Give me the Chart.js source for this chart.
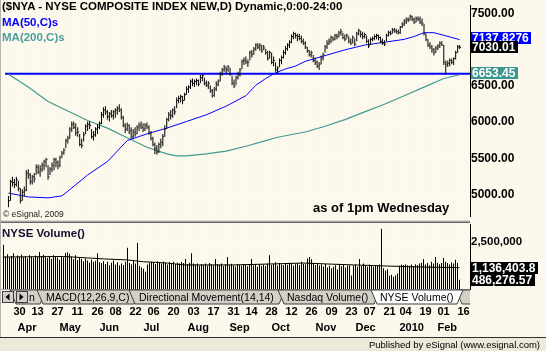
<!DOCTYPE html>
<html lang="en">

<head>
    <meta charset="UTF-8">
    <meta name="viewport" content="width=device-width, initial-scale=1.0">
    <title>$NYA - NYSE Composite Index</title>
    <script src="https://cdn.jsdelivr.net/npm/chart.js"></script>
    <style>
        body { margin: 0; width: 546px; height: 351px; overflow: hidden; position: relative; background: #fdf8ec; font-family: "Liberation Sans", Arial, sans-serif; }
        canvas { position: absolute; left: 0; }
        .txt { position: absolute; white-space: nowrap; line-height: 1; font-weight: bold; color: #000; }
        .borda { position: absolute; left: 0; top: 0; width: 1px; height: 337px; background: #b4b4b4; }
        .separador { position: absolute; left: 0; top: 220px; width: 470px; height: 3px; background: linear-gradient(#d8d8d8 0 1px, #a8a8a8 1px 2px, #686868 2px 3px); }
        .status { position: absolute; left: 0; top: 337px; width: 546px; height: 14px; background: #ece9d8; border-top: 1px solid #303030; box-sizing: border-box; }
        .status span { position: absolute; right: 6px; top: 2px; font-size: 9.5px; line-height: 1; color: #000; }
        svg { position: absolute; left: 0; top: 289px; }
    </style>
</head>

<body>

    <canvas id="grafico" width="546" height="221" style="top:0"></canvas>
    <div class="separador"></div>
    <canvas id="volume" width="546" height="114" style="top:223px"></canvas>

    <svg width="470" height="17" viewBox="0 0 470 17">
        <line x1="0" y1="0.5" x2="470" y2="0.5" stroke="#a0a0a0" />
        <polygon points="10,1 46,1 40,15 16,15" fill="#d4d0c8" stroke="#404040" />
        <text x="29" y="12" font-size="10.5" font-family="Liberation Sans, Arial">n</text>
        <rect x="2.5" y="2.5" width="11" height="11" fill="#d4d0c8" stroke="#404040" />
        <polygon points="5.5,8 9.5,4.5 9.5,11.5" fill="#000" />
        <rect x="16.5" y="2.5" width="11" height="11" fill="#d4d0c8" stroke="#404040" />
        <polygon points="19.5,4.5 19.5,11.5 23.5,8" fill="#000" />
        <polygon points="37,1 140,1 134,15 43,15" fill="#d4d0c8" stroke="#404040" />
        <text x="46" y="12" font-size="10.5" font-family="Liberation Sans, Arial">MACD(12,26,9,C)</text>
        <polygon points="129,1 285,1 279,15 135,15" fill="#d4d0c8" stroke="#404040" />
        <text x="139" y="12" font-size="10.5" font-family="Liberation Sans, Arial">Directional Movement(14,14)</text>
        <polygon points="278,1 380,1 374,15 284,15" fill="#d4d0c8" stroke="#404040" />
        <text x="287" y="12" font-size="10.5" font-family="Liberation Sans, Arial">Nasdaq Volume()</text>
        <polygon points="456,1 520,1 514,15 462,15" fill="#d4d0c8" stroke="#404040" />
        <polygon points="371,1 463,1 457,15 377,15" fill="#ffffff" stroke="#404040" />
        <text x="380" y="12" font-size="10.5" font-family="Liberation Sans, Arial">NYSE Volume()</text>
    </svg>

    <div class="borda"></div>
    <div class="txt" style="left:2px; top:1px; font-size:11.5px;">($NYA - NYSE COMPOSITE INDEX NEW,D) Dynamic,0:00-24:00</div>
    <div class="txt" style="left:2px; top:17px; font-size:11.5px; color:#0000ff;">MA(50,C)s</div>
    <div class="txt" style="left:2px; top:32px; font-size:11.5px; color:#4a9e9c;">MA(200,C)s</div>
    <div class="txt" style="left:313px; top:201px; font-size:13px;">as of 1pm Wednesday</div>
    <div class="txt" style="left:3px; top:210px; font-size:8.5px; font-weight:normal; color:#202020;">© eSignal, 2009</div>
    <div class="txt" style="left:2px; top:228px; font-size:11.5px; color:#101030;">NYSE Volume()</div>
    <div class="status"><span>Published by eSignal (www.esignal.com)</span></div>

    <script>
        // daily bars, index 0 = 23 Mar 2009, last = 17 Feb 2010 (partial day)
        const high = [
            4983, 5206, 5246, 5219, 5246, 5193, 5088, 5075, 5114, 5338,
            5351, 5298, 5272, 5298, 5417, 5417, 5404, 5443, 5483, 5509,
            5404, 5377, 5443, 5509, 5509, 5470, 5535, 5601, 5641, 5772,
            5812, 5930, 6009, 6009, 5983, 5930, 5838, 5772, 5864, 5970,
            6009, 6009, 5904, 5878, 5930, 5970, 6009, 6141, 6206, 6220,
            6167, 6141, 6167, 6167, 6193, 6220, 6246, 6193, 6088, 5983,
            5996, 5970, 5930, 5904, 5930, 5956, 5996, 6009, 5983, 5983,
            5996, 5956, 5878, 5799, 5720, 5680, 5720, 5772, 5838, 5956,
            6062, 6141, 6167, 6193, 6220, 6338, 6364, 6378, 6364, 6404,
            6496, 6509, 6588, 6601, 6588, 6601, 6588, 6654, 6667, 6614,
            6575, 6562, 6509, 6456, 6483, 6562, 6588, 6693, 6746, 6786,
            6772, 6786, 6746, 6641, 6588, 6641, 6693, 6746, 6865, 6891,
            6904, 6865, 6983, 6996, 7036, 7088, 7088, 7088, 7062, 7062,
            7009, 6983, 6983, 6957, 6904, 6825, 6772, 6878, 6917, 6996,
            7049, 7088, 7128, 7207, 7246, 7233, 7220, 7220, 7193, 7154,
            7115, 7036, 6996, 6983, 6930, 6891, 6851, 6825, 6917, 6957,
            7062, 7128, 7154, 7193, 7180, 7220, 7220, 7259, 7286, 7233,
            7207, 7220, 7180, 7154, 7193, 7154, 7246, 7286, 7259, 7246,
            7233, 7193, 7141, 7167, 7180, 7207, 7220, 7207, 7180, 7154,
            7128, 7220, 7259, 7259, 7299, 7299, 7286, 7272, 7325, 7378,
            7417, 7444, 7444, 7483, 7470, 7444, 7457, 7457, 7457, 7430,
            7351, 7220, 7141, 7101, 7062, 7022, 7049, 7075, 7115, 7115,
            7062, 6851, 6851, 6878, 6878, 6891, 6983, 7062, 7062
        ];
        const low = [
            4825, 4917, 5114, 5088, 5114, 5048, 4877, 4917, 4983, 5048,
            5219, 5141, 5141, 5167, 5272, 5285, 5246, 5312, 5338, 5377,
            5206, 5272, 5312, 5338, 5377, 5351, 5377, 5509, 5549, 5641,
            5706, 5772, 5864, 5904, 5812, 5799, 5667, 5641, 5733, 5838,
            5878, 5904, 5772, 5746, 5799, 5838, 5904, 5970, 6062, 6101,
            6035, 6009, 6062, 6035, 6062, 6101, 6141, 6035, 5930, 5851,
            5878, 5838, 5772, 5772, 5799, 5838, 5878, 5904, 5864, 5878,
            5904, 5825, 5746, 5667, 5562, 5549, 5575, 5641, 5667, 5799,
            5904, 6009, 6035, 6062, 6101, 6193, 6259, 6272, 6246, 6299,
            6378, 6404, 6456, 6496, 6483, 6509, 6496, 6536, 6562, 6509,
            6483, 6456, 6404, 6338, 6351, 6430, 6496, 6562, 6641, 6693,
            6667, 6693, 6641, 6509, 6470, 6509, 6588, 6628, 6733, 6786,
            6799, 6759, 6851, 6891, 6930, 6983, 7009, 6983, 6957, 6996,
            6930, 6851, 6878, 6799, 6772, 6693, 6667, 6759, 6799, 6878,
            6930, 6983, 7022, 7088, 7141, 7154, 7115, 7128, 7088, 7062,
            7009, 6957, 6904, 6891, 6825, 6786, 6746, 6720, 6799, 6851,
            6957, 7009, 7062, 7088, 7115, 7128, 7141, 7167, 7193, 7141,
            7115, 7154, 7088, 7062, 7088, 7049, 7115, 7193, 7167, 7141,
            7154, 7088, 7022, 7062, 7115, 7128, 7141, 7128, 7088, 7062,
            7049, 7115, 7180, 7193, 7220, 7233, 7220, 7207, 7220, 7299,
            7325, 7351, 7378, 7404, 7391, 7351, 7378, 7391, 7351, 7325,
            7193, 7115, 7036, 7009, 6957, 6917, 6957, 6996, 7022, 7049,
            6786, 6654, 6759, 6772, 6799, 6786, 6865, 6957, 7009
        ];
        const close = [
            4917, 5180, 5167, 5141, 5206, 5088, 4917, 5035, 5062, 5298,
            5272, 5180, 5246, 5219, 5377, 5312, 5351, 5404, 5456, 5483,
            5246, 5351, 5404, 5483, 5443, 5404, 5509, 5575, 5614, 5746,
            5772, 5904, 5970, 5930, 5851, 5864, 5693, 5680, 5825, 5943,
            5970, 5956, 5799, 5825, 5904, 5930, 5983, 6101, 6167, 6141,
            6075, 6114, 6088, 6141, 6167, 6193, 6167, 6062, 5956, 5904,
            5956, 5878, 5799, 5864, 5838, 5930, 5956, 5930, 5904, 5956,
            5930, 5851, 5772, 5693, 5641, 5588, 5693, 5720, 5799, 5904,
            6035, 6101, 6088, 6167, 6141, 6299, 6325, 6351, 6299, 6378,
            6456, 6483, 6562, 6536, 6562, 6575, 6522, 6614, 6641, 6536,
            6509, 6536, 6430, 6364, 6456, 6522, 6562, 6667, 6720, 6746,
            6720, 6759, 6667, 6536, 6496, 6614, 6667, 6720, 6838, 6851,
            6825, 6825, 6957, 6930, 7009, 7062, 7036, 7062, 6983, 7022,
            6957, 6878, 6957, 6825, 6851, 6720, 6746, 6851, 6891, 6957,
            7009, 7062, 7101, 7180, 7220, 7193, 7180, 7154, 7115, 7088,
            7036, 6983, 6930, 6957, 6851, 6825, 6772, 6799, 6878, 6930,
            7036, 7088, 7115, 7167, 7141, 7193, 7180, 7233, 7246, 7167,
            7141, 7193, 7115, 7088, 7167, 7075, 7220, 7259, 7207, 7180,
            7207, 7115, 7049, 7141, 7154, 7180, 7193, 7167, 7115, 7088,
            7075, 7193, 7233, 7220, 7272, 7259, 7246, 7233, 7312, 7351,
            7391, 7417, 7404, 7457, 7417, 7378, 7430, 7417, 7378, 7365,
            7220, 7141, 7062, 7036, 6996, 6957, 7022, 7049, 7088, 7062,
            6825, 6799, 6812, 6851, 6825, 6878, 6957, 7036, 7030.01
        ];

        // moving averages, read at these bar indexes
        const ma50Idx = [0, 10, 20, 27, 30, 40, 50, 60, 70, 80, 90, 100, 110, 120, 125, 130, 135, 140, 145, 150, 155, 160, 170, 180, 190, 200, 205, 210, 215, 220, 228];
        const ma50 = [5022, 4969, 4956, 4983, 5048, 5272, 5456, 5746, 5838, 5917, 6009, 6101, 6220, 6364, 6509, 6601, 6680, 6733, 6772, 6838, 6878, 6917, 6996, 7062, 7101, 7141, 7180, 7233, 7233, 7197, 7137.8276];
        const ma200Idx = [0, 10, 20, 30, 40, 50, 60, 70, 80, 85, 90, 100, 110, 120, 130, 135, 140, 150, 160, 170, 180, 190, 200, 210, 220, 228];
        const ma200 = [6660, 6483, 6285, 6154, 6022, 5917, 5785, 5654, 5562, 5535, 5535, 5562, 5601, 5667, 5746, 5785, 5812, 5864, 5943, 6035, 6141, 6246, 6364, 6483, 6601, 6653.45];
        const supportLine = 6667;

        // NYSE volume in thousands
        const volK = [
            2350, 1720, 1850, 1680, 1760, 1900, 1650, 1780, 1700, 1820,
            1690, 1750, 1640, 1800, 1720, 1660, 1780, 1700, 1970, 1740,
            1820, 1700, 1650, 1760, 1610, 1790, 1700, 1680, 1560, 1740,
            1690, 1920, 1950, 1880, 1720, 1600, 1800, 1540, 1680, 1590,
            1480, 1620, 1520, 1400, 1560, 1450, 1500, 1900, 1420, 1380,
            1480, 1330, 1450, 1260, 1390, 1520, 1300, 1420, 1250, 1360,
            1280, 1450, 2200, 1380, 1300, 1500, 1350, 2450, 1220, 1150,
            1080, 920, 1300, 1380, 1450, 1420, 1330, 1480, 1400, 1350,
            1460, 1380, 1300, 1420, 1360, 1450, 1320, 1400, 1350, 1440,
            1380, 1600, 1320, 1400, 1900, 1350, 1290, 1360, 1240, 1310,
            1270, 1350, 1230, 1380, 1300, 1250, 1600, 1320, 1280, 1350,
            1220, 1300, 1700, 1260, 1340, 1250, 1200, 1310, 1280, 1240,
            1330, 1270, 1210, 1300, 1600, 1250, 1320, 1180, 1290, 1240,
            1300, 1220, 1350, 1800, 1270, 1330, 1420, 1250, 1380, 1300,
            1260, 1350, 1290, 1400, 1330, 1240, 1310, 1370, 1280, 1450,
            1340, 1300, 1620, 1700, 1580, 1390, 1280, 1350, 1250, 1300,
            1200, 1330, 1150, 1240, 1100, 1180, 1260, 1050, 1320, 1210,
            1280, 1150, 1230, 1250, 720, 1250, 1300, 1180, 1600, 1220,
            1350, 1240, 1190, 1300, 1250, 1180, 1280, 1220, 1300, 3200,
            1100, 980, 1050, 700, 760, 650, 720, 820, 1250, 1300,
            1280, 1320, 1260, 1240, 1300, 1220, 1310, 1270, 1350, 1400,
            1600, 1300, 1380, 1260, 1450, 1350, 1700, 1400, 1320, 1380,
            1650, 1450, 1380, 1300, 1420, 1350, 1550, 1380, 486.27657
        ];
        const volMaIdx = [0, 30, 50, 62, 70, 82, 90, 100, 115, 130, 150, 162, 175, 192, 208, 228];
        const volMa = [1700, 1730, 1600, 1545, 1450, 1380, 1280, 1280, 1280, 1320, 1380, 1330, 1280, 1220, 1170, 1136.4038];

        // axis labels
        const priceTicks = [5000, 5500, 6000, 6500, 7500];
        const volTicks = [2500];
        const dayIdx = [5, 14, 24, 34, 44, 53, 63, 72, 82, 92, 102, 112, 121, 131, 141, 151, 161, 171, 180, 190, 198, 208, 217, 227];
        const dayLabels = ['30', '13', '27', '11', '26', '08', '22', '06', '20', '03', '17', '31', '14', '28', '12', '26', '09', '23', '07', '21', '04', '19', '01', '16'];
        const monthIdx = [7, 28, 48, 70, 92, 113, 134, 156, 176, 198, 217];
        const monthLabels = ['Apr', 'May', 'Jun', 'Jul', 'Aug', 'Sep', 'Oct', 'Nov', 'Dec', '2010', 'Feb'];

        const xMin = -1.75, xMax = 233.25;
        const teal = '#3f9a90';
        const dots = 'rgba(255,255,255,0.95)';

        Chart.defaults.font.family = '"Liberation Sans", Arial, sans-serif';
        Chart.defaults.color = '#000';

        function boxes(scaleId, items) {
            return {
                id: 'boxes_' + scaleId,
                afterDraw(chart) {
                    const c = chart.ctx;
                    const scale = chart.scales[scaleId];
                    c.save();
                    c.font = 'bold 12px "Liberation Sans", Arial';
                    c.textBaseline = 'middle';
                    items.forEach(it => {
                        const y = Math.round(scale.getPixelForValue(it.value) + (it.dy || 0));
                        const w = Math.ceil(c.measureText(it.text).width) + 3;
                        c.fillStyle = it.bg;
                        c.fillRect(471, y - 6, w, 12);
                        c.fillStyle = '#fff';
                        c.fillText(it.text, 472, y + 0.5);
                    });
                    c.restore();
                }
            };
        }

        const noPad = s => { s.paddingTop = 0; s.paddingBottom = 0; s.paddingLeft = 0; s.paddingRight = 0; };

        const bars = high.map((h, i) => ({ x: i, y: [low[i], h] }));
        const closeTicks = close.map((c, i) => ({ x: i + 0.5, y: c }));
        const lastClose = close[close.length - 1];

        new Chart(document.getElementById('grafico').getContext('2d'), {
            type: 'bar',
            data: {
                datasets: [{
                    data: bars,
                    backgroundColor: '#000',
                    barThickness: 1,
                    inflateAmount: 0,
                    borderWidth: 0,
                    order: 2
                }, {
                    type: 'scatter',
                    data: closeTicks,
                    pointStyle: 'line',
                    pointRadius: 0.5,
                    borderColor: '#000',
                    borderWidth: 1,
                    order: 1
                }, {
                    type: 'line',
                    data: ma50Idx.map((x, i) => ({ x, y: ma50[i] })),
                    borderColor: '#0000ff',
                    borderWidth: 1,
                    pointRadius: 0,
                    order: 3
                }, {
                    type: 'line',
                    data: ma200Idx.map((x, i) => ({ x, y: ma200[i] })),
                    borderColor: teal,
                    borderWidth: 1.2,
                    pointRadius: 0,
                    order: 3
                }, {
                    type: 'line',
                    data: [{ x: xMin, y: supportLine }, { x: xMax, y: supportLine }],
                    borderColor: '#0000ff',
                    borderWidth: 2,
                    pointRadius: 0,
                    order: 4
                }]
            },
            options: {
                responsive: false,
                animation: false,
                events: [],
                layout: { padding: 0 },
                plugins: { legend: { display: false }, tooltip: { enabled: false } },
                scales: {
                    x: {
                        type: 'linear', min: xMin, max: xMax, offset: false,
                        afterBuildTicks: s => { s.ticks = dayIdx.map(v => ({ value: v })); },
                        afterFit: s => { s.height = 0; noPad(s); },
                        ticks: { display: false },
                        grid: { color: dots, drawTicks: false, offset: false },
                        border: { display: false, dash: [1, 3] }
                    },
                    y: {
                        position: 'right', min: 4706, max: 7614.6,
                        afterBuildTicks: s => { s.ticks = priceTicks.map(v => ({ value: v })); },
                        afterFit: s => { s.width = 76; noPad(s); },
                        ticks: { padding: 1, font: { size: 12, weight: 'bold' }, callback: v => v.toFixed(2) },
                        grid: { color: dots, drawTicks: false },
                        border: { display: true, color: '#000', width: 1, dash: [1, 3] }
                    }
                }
            },
            plugins: [boxes('y', [
                { value: ma50[ma50.length - 1], dy: -2, bg: '#0000ff', text: '7137.8276' },
                { value: lastClose, bg: '#000', text: lastClose.toFixed(2) },
                { value: ma200[ma200.length - 1], dy: -2, bg: '#3d9690', text: '6653.45' }
            ])]
        });

        const fmt = v => (v * 1000).toLocaleString('en-US', { maximumFractionDigits: 2 });

        new Chart(document.getElementById('volume').getContext('2d'), {
            type: 'bar',
            data: {
                datasets: [{
                    data: volK.map((v, i) => ({ x: i, y: v })),
                    backgroundColor: '#000',
                    barThickness: 1,
                    inflateAmount: 0,
                    borderWidth: 0,
                    order: 2
                }, {
                    type: 'line',
                    data: volMaIdx.map((x, i) => ({ x, y: volMa[i] })),
                    borderColor: '#000',
                    borderWidth: 1,
                    pointRadius: 0,
                    order: 1
                }]
            },
            options: {
                responsive: false,
                animation: false,
                events: [],
                layout: { padding: { top: 1 } },
                plugins: { legend: { display: false }, tooltip: { enabled: false } },
                scales: {
                    x: {
                        type: 'linear', position: 'bottom', min: xMin, max: xMax, offset: false,
                        afterBuildTicks: s => { s.ticks = dayIdx.map(v => ({ value: v })); },
                        afterFit: s => { s.height = 30; noPad(s); },
                        ticks: { align: 'start', padding: 16, maxRotation: 0, autoSkip: false, font: { size: 11, weight: 'bold' }, callback: (v, i) => dayLabels[i] },
                        grid: { color: dots, drawTicks: false, offset: false },
                        border: { display: false, dash: [1, 3] }
                    },
                    xm: {
                        type: 'linear', position: 'bottom', min: xMin, max: xMax, offset: false,
                        afterBuildTicks: s => { s.ticks = monthIdx.map(v => ({ value: v })); },
                        afterFit: s => { s.height = 18; noPad(s); },
                        ticks: { align: 'start', padding: 2, maxRotation: 0, autoSkip: false, font: { size: 11, weight: 'bold' }, callback: (v, i) => monthLabels[i] },
                        grid: { display: false, drawTicks: false },
                        border: { display: false }
                    },
                    y: {
                        position: 'right', min: 0, max: 3457,
                        afterBuildTicks: s => { s.ticks = volTicks.map(v => ({ value: v })); },
                        afterFit: s => { s.width = 76; noPad(s); },
                        ticks: { padding: 1, font: { size: 11.5, weight: 'bold' }, callback: v => fmt(v) },
                        grid: { color: dots, drawTicks: false },
                        border: { display: true, color: '#000', width: 1, dash: [1, 3] }
                    }
                }
            },
            plugins: [boxes('y', [
                { value: volMa[volMa.length - 1], bg: '#000', text: fmt(volMa[volMa.length - 1]) },
                { value: volK[volK.length - 1], bg: '#000', text: fmt(volK[volK.length - 1]) }
            ])]
        });
    </script>
</body>

</html>
